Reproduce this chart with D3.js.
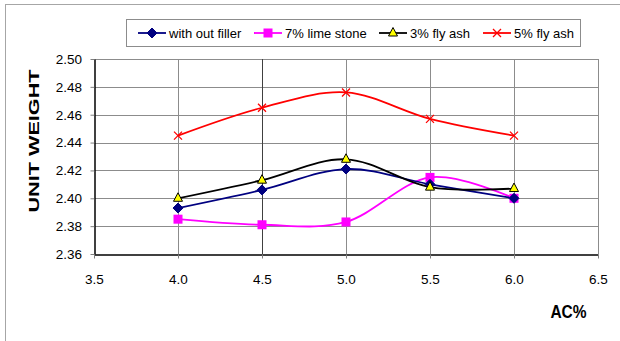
<!DOCTYPE html>
<html>
<head>
<meta charset="utf-8">
<script src="https://cdn.jsdelivr.net/npm/d3@7"></script>
<style>
  html, body { margin: 0; padding: 0; background: #fff; }
  svg { display: block; font-family: "Liberation Sans", Arial, sans-serif; }
</style>
</head>
<body>
<svg id="chart" width="620" height="341"></svg>
<script>
// AC% values on the x axis
const acPercent = [4.0, 4.5, 5.0, 5.5, 6.0];

// Unit weight per mix
const withOutFiller = [2.393, 2.406, 2.421, 2.410, 2.400];
const limeStone7 = [2.385, 2.381, 2.383, 2.415, 2.400];
const flyAsh3 = [2.400, 2.413, 2.428, 2.408, 2.407];
const flyAsh5 = [2.445, 2.465, 2.476, 2.457, 2.445];

const seriesNames = ["with out filler", "7% lime stone", "3% fly ash", "5% fly ash"];

const xTicks = [3.5, 4.0, 4.5, 5.0, 5.5, 6.0, 6.5];
const yTicks = [2.36, 2.38, 2.40, 2.42, 2.44, 2.46, 2.48, 2.50];

const series = [
  { name: seriesNames[0], values: withOutFiller, color: "#000080", marker: "diamond" },
  { name: seriesNames[1], values: limeStone7, color: "#FF00FF", marker: "square" },
  { name: seriesNames[2], values: flyAsh3, color: "#000000", marker: "triangle" },
  { name: seriesNames[3], values: flyAsh5, color: "#FF0000", marker: "cross" }
];

const svg = d3.select("#chart");

// outer chart frame (only left and top edges fall inside the view)
svg.append("rect")
  .attr("x", 5.5).attr("y", 4.5)
  .attr("width", 640).attr("height", 360)
  .attr("fill", "none").attr("stroke", "#a6a6a6").attr("stroke-width", 1);

const plot = { left: 94, right: 598, top: 59, bottom: 254 };

const x = d3.scaleLinear().domain([3.5, 6.5]).range([plot.left, plot.right]);
const y = d3.scaleLinear().domain([2.36, 2.50]).range([plot.bottom, plot.top]);

// gridlines
const grid = svg.append("g");
grid.selectAll("line.h").data(yTicks.slice(1)).enter().append("line")
  .attr("x1", plot.left).attr("x2", plot.right)
  .attr("y1", d => Math.round(y(d)) + 0.5).attr("y2", d => Math.round(y(d)) + 0.5)
  .attr("stroke", "#8c8c8c").attr("stroke-width", 1);
grid.selectAll("line.v").data(xTicks.slice(1)).enter().append("line")
  .attr("y1", plot.top).attr("y2", plot.bottom)
  .attr("x1", d => Math.round(x(d)) + 0.5).attr("x2", d => Math.round(x(d)) + 0.5)
  .attr("stroke", d => d === 4.5 ? "#404040" : "#8c8c8c").attr("stroke-width", 1);

// axes
const xAxis = d3.axisBottom(x).tickValues(xTicks).tickFormat(d3.format(".1f")).tickSize(4).tickSizeOuter(0);
const yAxis = d3.axisLeft(y).tickValues(yTicks).tickFormat(d3.format(".2f")).tickSize(4).tickSizeOuter(0);

const gx = svg.append("g").attr("transform", `translate(0,${plot.bottom + 0.5})`).call(xAxis);
gx.select(".domain").attr("stroke", "#000").attr("stroke-width", 1.5);
gx.selectAll(".tick line").attr("stroke", "#808080");
gx.selectAll(".tick text").attr("font-size", 13.5).attr("fill", "#000")
  .attr("y", 24.5).attr("dy", "0.35em")
  .attr("font-family", "Liberation Sans, Arial, sans-serif");

const gy = svg.append("g").attr("transform", `translate(${plot.left + 0.5},0)`).call(yAxis);
gy.select(".domain").attr("stroke", "#000").attr("stroke-width", 1.5);
gy.selectAll(".tick line").attr("stroke", "#808080");
gy.selectAll(".tick text").attr("font-size", 13.5).attr("fill", "#000").attr("x", -12.5)
  .attr("font-family", "Liberation Sans, Arial, sans-serif");

// axis titles
svg.append("text")
  .attr("transform", "translate(39,141) rotate(-90)")
  .attr("text-anchor", "middle")
  .attr("font-size", 15.5).attr("font-weight", "bold")
  .attr("textLength", 143).attr("lengthAdjust", "spacingAndGlyphs")
  .text("UNIT WEIGHT");
svg.append("text")
  .attr("transform", "translate(568.5,317.5) scale(1,1.18)")
  .attr("text-anchor", "middle")
  .attr("font-size", 15.5).attr("font-weight", "bold")
  .text("AC%");

// smoothed lines
const line = d3.line()
  .x((d, i) => x(acPercent[i]))
  .y(d => y(d))
  .curve(d3.curveCatmullRom.alpha(0));

function drawMarker(g, type, color, cx, cy) {
  if (type === "diamond") {
    g.append("path")
      .attr("d", `M${cx},${cy - 5}L${cx + 5},${cy}L${cx},${cy + 5}L${cx - 5},${cy}Z`)
      .attr("fill", color).attr("stroke", color);
  } else if (type === "square") {
    g.append("rect")
      .attr("x", cx - 4.5).attr("y", cy - 4.5).attr("width", 9).attr("height", 9)
      .attr("fill", color);
  } else if (type === "triangle") {
    g.append("path")
      .attr("d", `M${cx},${cy - 5.5}L${cx + 4.5},${cy + 3}L${cx - 4.5},${cy + 3}Z`)
      .attr("fill", "#FFFF00").attr("stroke", "#000").attr("stroke-width", 1);
  } else if (type === "cross") {
    g.append("path")
      .attr("d", `M${cx - 4},${cy - 4}L${cx + 4},${cy + 4}M${cx - 4},${cy + 4}L${cx + 4},${cy - 4}`)
      .attr("stroke", color).attr("stroke-width", 1.3).attr("fill", "none");
  }
}

const drawOrder = [3, 1, 0, 2];
drawOrder.forEach(k => {
  const s = series[k];
  svg.append("path")
    .datum(s.values)
    .attr("d", line)
    .attr("fill", "none")
    .attr("stroke", s.color)
    .attr("stroke-width", 1.8);
});
drawOrder.forEach(k => {
  const s = series[k];
  const g = svg.append("g");
  s.values.forEach((v, i) => drawMarker(g, s.marker, s.color, x(acPercent[i]), y(v)));
});

// legend
const legend = svg.append("g");
legend.append("rect")
  .attr("x", 126.5).attr("y", 19.5).attr("width", 454).attr("height", 27)
  .attr("fill", "#fff").attr("stroke", "#8c8c8c");
const legendX = [138, 254, 379, 483];
series.forEach((s, i) => {
  const lx = legendX[i], ly = 33;
  legend.append("line")
    .attr("x1", lx).attr("x2", lx + 28).attr("y1", ly).attr("y2", ly)
    .attr("stroke", s.color).attr("stroke-width", 1.8);
  drawMarker(legend, s.marker, s.color, lx + 14, ly);
  legend.append("text")
    .attr("x", lx + 31).attr("y", ly + 4.5)
    .attr("font-size", 13).attr("fill", "#000")
    .text(s.name);
});
</script>
</body>
</html>
